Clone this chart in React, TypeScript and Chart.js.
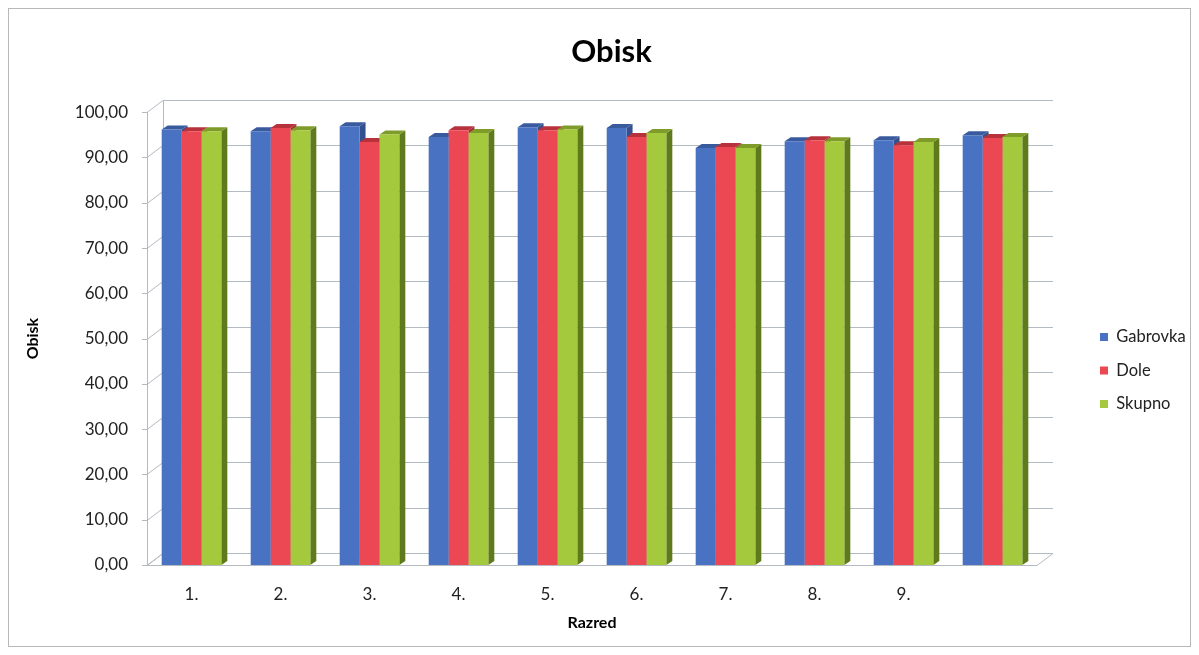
import { useEffect, useRef } from "react";
import { Chart, registerables } from "chart.js";

Chart.register(...registerables);

const categories = ["1.", "2.", "3.", "4.", "5.", "6.", "7.", "8.", "9.", ""];
const gabrovka = [96.2, 95.8, 96.9, 94.5, 96.7, 96.5, 92.1, 93.6, 93.8, 94.9];
const dole = [95.8, 96.5, 93.4, 96.0, 96.0, 94.5, 92.3, 93.8, 92.7, 94.3];
const skupno = [95.8, 96.0, 95.1, 95.4, 96.2, 95.4, 92.1, 93.6, 93.4, 94.5];
const seriesNames = ["Gabrovka", "Dole", "Skupno"];
const yMin = 0;
const yMax = 100;
const yStep = 10;

const FRONT = ["#4a72c2", "#ec4853", "#a5c93c"];
const TOP = ["#3a5a9e", "#b8323c", "#7f9c2a"];
const SIDE = ["#34508e", "#a82c35", "#5f7a1c"];
const GRID = "#b4bac2";
const FONT = "Lato, 'Open Sans', sans-serif";

const WALL_DX = 16;
const WALL_DY = 12;
const BAR_DX = 6;
const BAR_DY = 4;

const depthPlugin = {
  id: "depth3d",
  beforeUpdate(chart: any) {
    const lg = chart.legend;
    if (lg && !lg.__patched) {
      lg.__patched = true;
      const fit = lg.fit.bind(lg);
      lg.fit = function () {
        fit();
        this.width = 153;
      };
      const draw = lg.draw.bind(lg);
      lg.draw = function () {
        const l = this.left;
        const t = this.top;
        const b = this.bottom;
        this.left = l + 46;
        this.top = t + 43;
        this.bottom = b + 43;
        draw();
        this.left = l;
        this.top = t;
        this.bottom = b;
      };
    }
    const tb = chart.titleBlock;
    if (tb && !tb.__patched) {
      tb.__patched = true;
      const draw = tb.draw.bind(tb);
      tb.draw = function () {
        const l = this.left;
        this.left = l + 24;
        draw();
        this.left = l;
      };
    }
  },
  beforeDatasetsDraw(chart: any) {
    const { ctx, chartArea, scales } = chart;
    const ys = scales.y;
    const { left, right, top, bottom } = chartArea;
    ctx.save();
    ctx.strokeStyle = GRID;
    ctx.lineWidth = 1;
    // floor
    ctx.beginPath();
    ctx.moveTo(left, bottom + 0.5);
    ctx.lineTo(right, bottom + 0.5);
    ctx.lineTo(right + WALL_DX, bottom - WALL_DY + 0.5);
    ctx.lineTo(left + WALL_DX, bottom - WALL_DY + 0.5);
    ctx.closePath();
    ctx.stroke();
    // back wall gridlines and left wall
    ys.ticks.forEach((t: any) => {
      const py = Math.round(ys.getPixelForValue(t.value)) + 0.5;
      ctx.beginPath();
      ctx.moveTo(left + WALL_DX, py - WALL_DY);
      ctx.lineTo(right + WALL_DX, py - WALL_DY);
      ctx.moveTo(left, py);
      ctx.lineTo(left + WALL_DX, py - WALL_DY);
      ctx.moveTo(left - 5, py);
      ctx.lineTo(left, py);
      ctx.stroke();
    });
    ctx.beginPath();
    ctx.moveTo(left + 0.5, top);
    ctx.lineTo(left + 0.5, bottom);
    ctx.moveTo(left + WALL_DX + 0.5, top - WALL_DY);
    ctx.lineTo(left + WALL_DX + 0.5, bottom - WALL_DY);
    ctx.stroke();

    // bar depth faces
    chart.data.datasets.forEach((_ds: any, di: number) => {
      const meta = chart.getDatasetMeta(di);
      meta.data.forEach((bar: any) => {
        const { x, y, base, width } = bar.getProps(["x", "y", "base", "width"], true);
        const l = x - width / 2;
        const r = x + width / 2;
        ctx.fillStyle = SIDE[di];
        ctx.beginPath();
        ctx.moveTo(r, y);
        ctx.lineTo(r + BAR_DX, y - BAR_DY);
        ctx.lineTo(r + BAR_DX, base - BAR_DY);
        ctx.lineTo(r, base);
        ctx.closePath();
        ctx.fill();
        ctx.fillStyle = TOP[di];
        ctx.beginPath();
        ctx.moveTo(l, y);
        ctx.lineTo(l + BAR_DX, y - BAR_DY);
        ctx.lineTo(r + BAR_DX, y - BAR_DY);
        ctx.lineTo(r, y);
        ctx.closePath();
        ctx.fill();
      });
    });
    ctx.restore();
  },
};

export default function App() {
  const ref = useRef<HTMLCanvasElement | null>(null);

  useEffect(() => {
    if (!ref.current) return;
    const values = [gabrovka, dole, skupno];
    const chart = new Chart(ref.current, {
      type: "bar",
      data: {
        labels: categories,
        datasets: seriesNames.map((name, i) => ({
          label: name,
          data: values[i],
          backgroundColor: FRONT[i],
          borderWidth: 0,
          categoryPercentage: 0.67,
          barPercentage: 1,
        })),
      },
      options: {
        animation: false,
        responsive: false,
        maintainAspectRatio: false,
        layout: { padding: 0 },
        plugins: {
          title: {
            display: true,
            text: "Obisk",
            color: "#000",
            font: { family: FONT, size: 31, weight: "bold" },
            padding: { top: 24, bottom: 42 },
          },
          legend: {
            position: "right",
            labels: {
              boxWidth: 8,
              boxHeight: 8,
              padding: 17,
              color: "#222",
              font: { family: FONT, size: 16.5 },
            },
          },
          tooltip: { enabled: false },
        },
        scales: {
          x: {
            grid: { display: false, drawTicks: false },
            border: { display: false },
            ticks: { color: "#222", padding: 19, font: { family: FONT, size: 17 } },
            title: {
              display: true,
              text: "Razred",
              color: "#000",
              font: { family: FONT, size: 16, weight: "bold" },
              padding: { top: 0, bottom: 14 },
            },
            afterFit: (s: any) => {
              s.height = 81;
            },
          },
          y: {
            min: yMin,
            max: yMax,
            grid: { display: false, drawTicks: false },
            border: { display: false },
            ticks: {
              stepSize: yStep,
              color: "#222",
              padding: 19,
              font: { family: FONT, size: 17 },
              callback: (v: any) => Number(v).toFixed(2).replace(".", ","),
            },
            title: {
              display: true,
              text: "Obisk",
              color: "#000",
              font: { family: FONT, size: 16, weight: "bold" },
              padding: { top: 14, bottom: 0 },
            },
            afterFit: (s: any) => {
              s.width = 138;
            },
          },
        },
      },
      plugins: [depthPlugin],
    });
    return () => chart.destroy();
  }, []);

  return (
    <div
      style={{
        width: 1181,
        height: 637,
        border: "1px solid #b8b8b8",
        background: "#fff",
      }}
    >
      <canvas ref={ref} width={1181} height={637} style={{ display: "block" }} />
    </div>
  );
}
